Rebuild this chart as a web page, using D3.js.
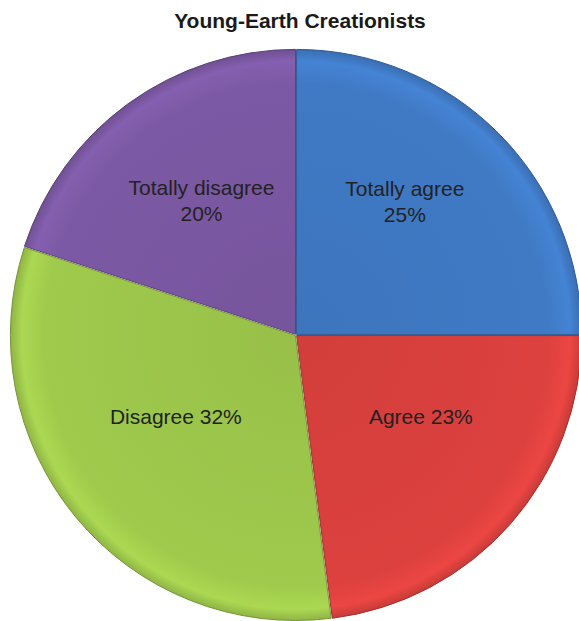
<!DOCTYPE html>
<html><head><meta charset="utf-8">
<script src="https://cdn.jsdelivr.net/npm/d3@7"></script>
<style>body{margin:0;background:#fff}svg{display:block}</style>
</head><body>
<svg id="c" width="579" height="621"></svg>
<script>
const title = "Young-Earth Creationists";
const categories = ["Totally agree", "Agree", "Disagree", "Totally disagree"];
const values = [25, 23, 32, 20];
const labelLines = [["Totally agree", "25%"], ["Agree 23%"], ["Disagree 32%"], ["Totally disagree", "20%"]];
const baseColors = ["#3f78c2", "#d8403d", "#9cc64b", "#7a57a1"];

const W = 579, H = 621, cx = 296, cy = 335, R = 285, explode = 0.8;
const svg = d3.select("#c");
const defs = svg.append("defs");

baseColors.forEach((c, i) => {
  const g = defs.append("radialGradient").attr("id", "g" + i)
    .attr("gradientUnits", "userSpaceOnUse").attr("cx", 0).attr("cy", 0).attr("r", R);
  const col = d3.color(c);
  g.append("stop").attr("offset", "0%").attr("stop-color", col.darker(0.08));
  g.append("stop").attr("offset", "88%").attr("stop-color", col.brighter(0.05));
  g.append("stop").attr("offset", "96%").attr("stop-color", col.brighter(0.25));
  g.append("stop").attr("offset", "100%").attr("stop-color", col.darker(0.25));
});

svg.append("text").attr("x", 300).attr("y", 28).attr("text-anchor", "middle")
  .attr("font-family", "Liberation Sans, Arial, sans-serif").attr("font-weight", "bold")
  .attr("font-size", 21).attr("fill", "#1a1a1a").text(title);

const pie = d3.pie().sort(null).value(d => d)(values);
const arc = d3.arc().innerRadius(0).outerRadius(R);
const labelArc = d3.arc().innerRadius(0).outerRadius(R * 1.14);

const g = svg.append("g").attr("transform", `translate(${cx},${cy})`);
pie.forEach((p, i) => {
  const mid = (p.startAngle + p.endAngle) / 2;
  const dx = Math.sin(mid) * explode, dy = -Math.cos(mid) * explode;
  const s = g.append("g").attr("transform", `translate(${dx},${dy})`);
  s.append("path").attr("d", arc(p)).attr("fill", `url(#g${i})`)
    .attr("stroke", d3.color(baseColors[i]).darker(0.8)).attr("stroke-width", 1)
    .attr("stroke-linejoin", "round");
});

const nudges = [[-6, -18], [3, -25], [5, -22], [1, -3]];
pie.forEach((p, i) => {
  const [x, y] = labelArc.centroid(p);
  const lines = labelLines[i];
  const t = g.append("text").attr("text-anchor", "middle")
    .attr("font-family", "Liberation Sans, Arial, sans-serif").attr("font-size", 21)
    .attr("fill", "#222");
  lines.forEach((ln, k) => {
    t.append("tspan").attr("x", x + nudges[i][0])
      .attr("y", y + nudges[i][1] + (k - (lines.length - 1) / 2) * 26 + 7).text(ln);
  });
});
</script>
</body></html>
